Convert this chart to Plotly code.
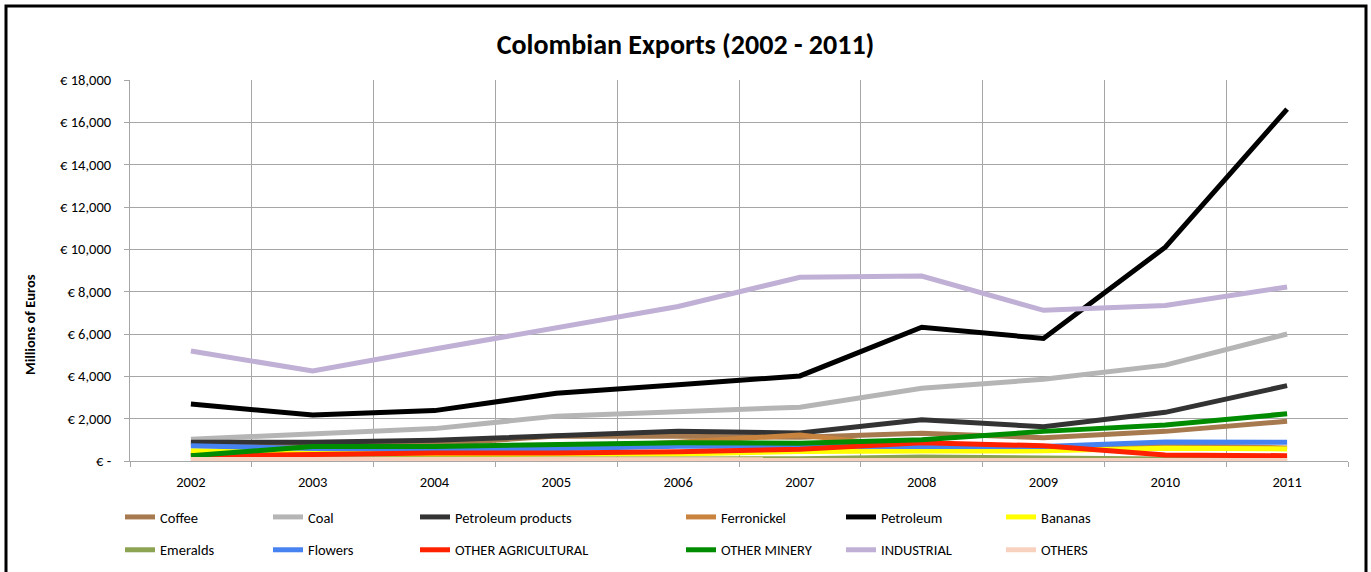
import plotly.graph_objects as go

years = ["2002", "2003", "2004", "2005", "2006", "2007", "2008", "2009", "2010", "2011"]

# Export values, millions of euros
coffee = [820, 760, 790, 1180, 1170, 1120, 1310, 1100, 1400, 1880]
coal = [1030, 1290, 1530, 2120, 2320, 2540, 3440, 3860, 4530, 6000]
petroleum_products = [880, 890, 980, 1170, 1400, 1320, 1950, 1620, 2300, 3560]
ferronickel = [340, 380, 510, 600, 890, 1230, 610, 520, 730, 620]
petroleum = [2690, 2170, 2380, 3200, 3600, 4020, 6320, 5790, 10100, 16620]
bananas = [490, 420, 260, 330, 330, 450, 470, 480, 600, 570]
emeralds = [120, 100, 110, 100, 90, 110, 190, 140, 90, 110]
flowers = [720, 590, 560, 580, 700, 720, 690, 680, 900, 880]
other_agricultural = [240, 320, 380, 380, 440, 560, 860, 720, 280, 250]
other_minery = [250, 690, 690, 760, 860, 840, 1000, 1400, 1700, 2230]
industrial = [5200, 4250, 5290, 6320, 7300, 8680, 8740, 7120, 7350, 8220]
others = [70, 70, 60, 60, 70, 70, 60, 60, 60, 60]

series = [
    ("Coffee", coffee, "#A67A4E", "legend"),
    ("Coal", coal, "#B5B5B5", "legend2"),
    ("Petroleum products", petroleum_products, "#333333", "legend3"),
    ("Ferronickel", ferronickel, "#C8843F", "legend4"),
    ("Petroleum", petroleum, "#000000", "legend5"),
    ("Bananas", bananas, "#FFFF00", "legend6"),
    ("Emeralds", emeralds, "#8CA352", "legend"),
    ("Flowers", flowers, "#4682F0", "legend2"),
    ("OTHER AGRICULTURAL", other_agricultural, "#FF2200", "legend3"),
    ("OTHER MINERY", other_minery, "#008C00", "legend4"),
    ("INDUSTRIAL", industrial, "#C0B0D5", "legend5"),
    ("OTHERS", others, "#F9D2BF", "legend6"),
]

y_ticks = list(range(0, 18001, 2000))
y_tick_text = ["€ -"] + [f"€ {v:,}" for v in y_ticks[1:]]

FONT = "Carlito, Liberation Sans, Arial, sans-serif"
SMALL = 14.5

fig = go.Figure()
for name, values, color, legend_id in series:
    fig.add_trace(go.Scatter(
        x=years, y=values, name=name, mode="lines",
        line=dict(color=color, width=5),
        legend=legend_id, legendgroup=name,
    ))

# Plot-area geometry in pixels
W, H = 1371, 572
L, R, T, B = 130, 23, 80, 111
pw, ph = W - L - R, H - T - B


def px_x(x):
    return (x - L) / pw


def px_y(y):
    return (H - B - y) / ph


# Legend columns sit below the plot, placed in container coordinates
legend_text_x = [161, 309, 456, 722, 882, 1042]
legend_ids = ["legend", "legend2", "legend3", "legend4", "legend5", "legend6"]
legend_layout = {}
for lid, tx in zip(legend_ids, legend_text_x):
    legend_layout[lid] = dict(
        x=(tx - 41) / W, y=1 - 501 / H, xref="container", yref="container",
        xanchor="left", yanchor="top",
        orientation="v", bgcolor="rgba(0,0,0,0)", borderwidth=0,
        tracegroupgap=11, font=dict(family=FONT, size=SMALL, color="#000"),
        itemwidth=30,
    )

fig.update_layout(
    width=W, height=H,
    margin=dict(l=L, r=R, t=T, b=B, autoexpand=False),
    paper_bgcolor="white", plot_bgcolor="white",
    font=dict(family=FONT, size=SMALL, color="#000"),
    title=dict(
        text="<b>Colombian Exports (2002 - 2011)</b>",
        x=0.5, xref="container", xanchor="center",
        y=1 - 44 / H, yref="container", yanchor="middle",
        font=dict(family=FONT, size=28, color="#000"),
    ),
    xaxis=dict(
        type="category", range=[-0.5, 9.5], tickson="boundaries",
        showgrid=True, gridcolor="#A6A6A6", gridwidth=1,
        showline=True, linecolor="#A6A6A6", linewidth=1,
        ticks="outside", ticklen=5, tickcolor="#A6A6A6",
        ticklabelstandoff=8,
        tickfont=dict(family=FONT, size=SMALL), fixedrange=True,
        automargin=False,
    ),
    yaxis=dict(
        range=[0, 18000], tickvals=y_ticks, ticktext=y_tick_text,
        showgrid=True, gridcolor="#A6A6A6", gridwidth=1,
        showline=True, linecolor="#A6A6A6", linewidth=1,
        ticks="outside", ticklen=5, tickcolor="#A6A6A6",
        ticklabelstandoff=10, zeroline=False,
        tickfont=dict(family=FONT, size=SMALL), fixedrange=True,
        automargin=False,
    ),
    annotations=[dict(
        text="<b>Millions of Euros</b>", textangle=-90,
        x=px_x(30), y=px_y(325), xref="paper", yref="paper",
        xanchor="center", yanchor="middle", showarrow=False,
        font=dict(family=FONT, size=SMALL, color="#000"),
    )],
    shapes=[dict(
        type="rect", xref="paper", yref="paper",
        x0=px_x(6), x1=px_x(1366), y0=px_y(576), y1=px_y(6),
        line=dict(color="#000", width=3), fillcolor="rgba(0,0,0,0)",
        layer="above",
    )],
    **legend_layout,
)

fig.write_html("out.html")
